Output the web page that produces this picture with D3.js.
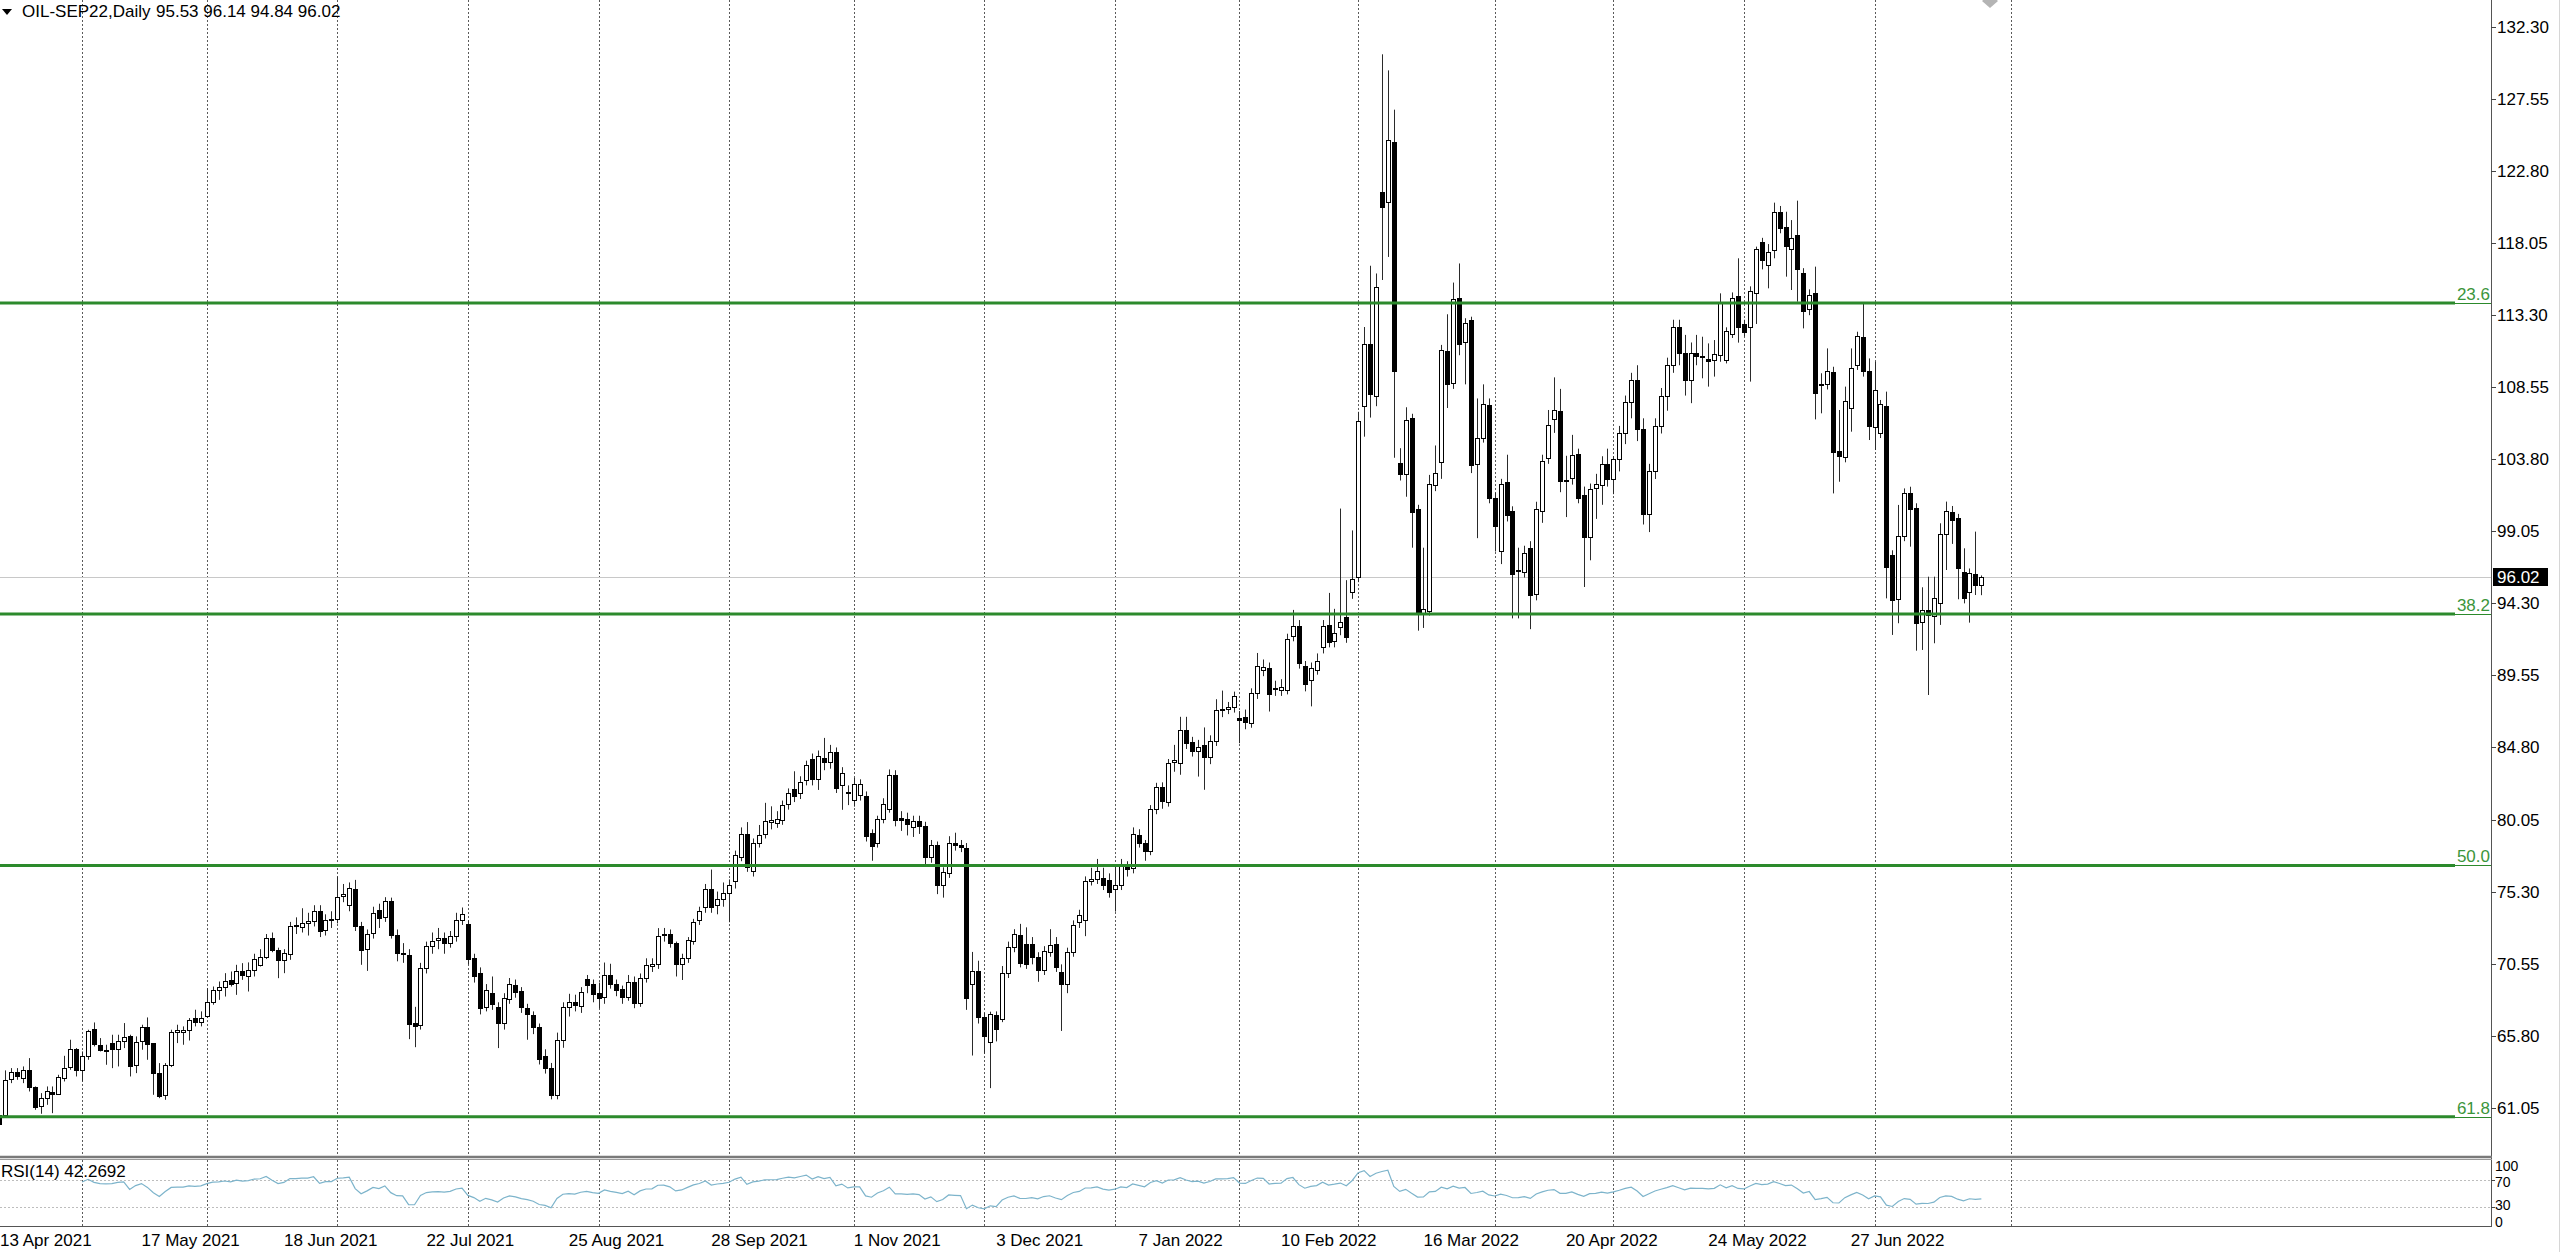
<!DOCTYPE html>
<html><head><meta charset="utf-8">
<script src="https://cdn.jsdelivr.net/npm/d3@7"></script>
<style>html,body{margin:0;padding:0;background:#fff;overflow:hidden}svg{display:block}text{white-space:pre}</style>
</head><body>
<svg id="chart" width="2560" height="1252"></svg>
<script>
// ---------------- data (daily OHLC, bar 0 = 13 Apr 2021) ----------------
const opens = [
60.6,60.54,62.93,63.40,62.98,63.55,62.41,61.13,61.68,62.06,
61.97,63.04,63.73,64.91,63.51,64.43,66.23,65.20,64.87,65.31,
64.91,65.48,65.79,63.88,65.48,66.34,65.31,63.37,61.90,63.88,
66.03,66.03,66.19,66.96,66.69,67.07,68.01,68.78,69.00,69.48,
69.26,70.03,69.75,70.10,70.47,70.98,72.21,71.46,70.80,71.17,
73.00,72.95,73.26,73.33,74.03,72.77,73.44,73.48,75.02,74.43,
75.48,73.00,71.50,72.56,74.10,73.61,74.65,72.45,71.24,71.13,
66.62,66.47,70.25,71.68,72.12,72.23,71.90,72.38,73.44,73.17,
70.91,69.92,67.72,68.60,67.72,66.62,68.21,69.11,68.76,67.61,
67.13,66.34,64.47,63.66,61.90,65.53,67.66,68.01,67.77,69.53,
69.20,68.60,68.34,69.81,69.22,68.89,68.38,69.37,67.94,69.59,
70.36,70.51,72.47,72.47,71.89,70.51,70.92,72.01,73.40,74.25,
75.48,74.44,74.83,75.21,76.00,77.61,79.11,76.68,78.53,79.07,
79.88,79.83,80.00,81.08,82.05,81.78,82.65,84.04,82.70,84.09,
83.81,84.50,82.31,81.88,81.31,81.68,81.57,79.14,78.53,80.11,
80.76,83.00,80.15,80.11,79.53,79.92,79.65,77.56,78.37,75.76,
76.52,78.49,78.37,78.14,69.23,70.09,67.04,65.35,67.15,66.92,
69.93,71.66,72.42,71.85,71.85,70.97,70.12,71.32,71.82,70.00,
69.23,71.32,73.28,73.40,75.99,76.11,76.18,76.06,75.44,75.71,
76.98,76.87,79.02,78.49,77.96,80.76,82.19,81.22,83.86,83.76,
85.96,85.15,84.55,84.97,84.16,85.24,87.24,87.33,87.44,86.71,
86.82,86.43,88.37,89.94,90.06,88.72,88.62,88.62,92.14,92.83,
90.17,89.25,89.94,91.45,92.88,91.79,92.76,93.39,95.08,96.03,
107.30,111.41,107.98,121.42,120.79,124.70,103.57,102.84,106.50,100.50,
93.61,93.81,102.08,103.65,110.96,108.82,114.44,111.51,112.98,103.52,
105.21,107.35,101.25,97.72,102.31,100.37,96.46,96.39,97.97,94.95,
100.37,103.90,106.47,107.00,102.44,102.59,104.16,101.43,98.66,101.88,
102.1,103.5,102.5,103.8,105.5,107.6,109.0,105.8,100.2,103.0,
106.0,108.0,110.0,112.5,110.8,109.0,110.8,110.63,110.41,110.34,
110.67,110.34,112.06,114.56,112.72,112.50,114.78,118.14,116.61,117.60,
120.12,119.13,117.66,118.58,116.10,113.68,114.74,108.78,108.76,109.53,
104.37,103.97,107.16,110.02,111.88,109.64,105.95,105.51,107.33,97.49,
94.57,98.74,101.60,100.57,93.10,93.87,93.47,94.35,98.88,100.35,
99.91,96.39,95.07,96.24,95.53];
const highs = [
60.9,63.51,63.66,63.66,63.77,64.32,62.45,62.01,62.45,62.45,
63.22,64.47,65.53,64.98,64.76,66.19,66.67,65.64,65.20,65.86,
65.86,66.63,65.86,65.75,66.52,67.00,65.31,63.99,63.99,66.19,
66.52,66.41,66.96,67.51,67.40,68.93,69.04,69.37,69.92,70.03,
70.47,70.58,70.63,71.20,71.50,72.50,72.60,71.60,71.50,73.30,
73.60,74.20,73.90,74.40,74.40,73.80,74.00,76.29,75.80,75.90,
76.07,73.30,72.80,74.30,74.50,74.93,74.90,72.80,71.90,71.50,
67.70,70.60,72.00,72.60,72.90,72.60,72.70,73.90,74.25,73.40,
71.20,70.30,69.20,69.70,68.00,68.60,69.60,69.50,69.00,67.90,
67.40,66.60,64.90,64.00,66.00,68.00,68.56,68.50,69.00,69.80,
69.50,69.30,70.62,70.54,69.50,69.10,69.80,69.70,69.90,70.90,
70.90,72.89,72.90,72.80,72.00,71.20,72.30,73.50,74.30,75.80,
76.75,75.30,75.90,76.10,78.00,79.53,79.88,78.80,79.69,81.15,
80.92,80.60,81.30,82.10,83.23,82.90,83.93,84.40,84.60,85.43,
84.97,84.80,83.50,82.30,82.80,82.70,81.90,79.40,80.30,81.45,
83.35,83.30,80.60,80.50,80.30,80.30,79.90,78.70,78.60,76.90,
78.95,79.18,78.70,78.50,71.32,70.74,67.30,67.38,67.40,70.39,
72.00,72.82,73.17,72.94,72.30,71.30,71.70,72.82,72.30,70.50,
71.60,73.40,74.10,76.30,76.87,77.45,76.87,76.50,76.98,77.45,
77.30,79.53,79.41,78.70,81.00,82.47,82.50,84.04,84.97,86.82,
86.82,85.50,85.30,86.12,85.60,87.98,88.55,87.80,88.48,87.20,
87.30,88.70,91.03,90.60,90.40,89.20,89.30,92.30,93.87,93.20,
90.50,90.40,91.00,93.20,94.99,93.94,100.55,95.83,99.11,106.93,
112.52,116.56,116.05,130.50,129.44,126.85,104.53,107.23,106.80,100.80,
97.97,102.77,104.71,111.34,113.36,115.45,116.71,113.10,113.20,107.81,
108.74,107.81,101.60,102.51,104.10,100.70,97.97,98.10,98.40,101.00,
104.10,107.05,109.20,108.44,104.03,105.41,104.50,102.00,102.20,102.84,
104.0,104.5,104.0,106.0,108.0,109.5,110.0,106.5,103.5,106.5,
108.5,110.5,113.0,113.0,112.0,111.5,112.0,111.88,111.44,111.66,
114.74,112.50,114.80,117.05,113.00,115.20,117.82,118.40,117.99,120.72,
120.50,120.12,119.57,120.85,116.40,115.00,116.50,109.47,111.11,109.90,
107.05,108.59,111.11,112.21,114.08,110.45,110.23,107.71,108.26,97.80,
100.79,101.88,101.99,100.90,95.36,96.06,96.06,99.58,101.01,100.72,
100.20,97.93,96.60,99.03,96.14];
const lows = [
59.7,60.47,62.67,62.89,62.67,62.12,60.91,60.65,61.24,60.69,
61.90,62.78,63.55,63.11,62.78,64.21,65.09,64.76,63.88,63.66,
63.77,64.98,63.11,63.33,64.87,64.21,61.90,61.68,61.57,63.73,
65.31,65.20,65.48,66.41,66.41,66.96,67.84,68.16,68.38,69.04,
68.49,69.48,68.71,69.70,70.36,70.85,71.30,69.59,69.92,70.80,
72.50,72.60,72.40,73.00,72.30,72.40,72.90,73.20,74.60,74.00,
72.70,70.47,70.07,72.20,72.90,73.30,72.20,70.70,70.60,65.57,
65.04,66.20,69.90,71.20,71.50,71.20,71.60,72.00,73.10,70.50,
69.30,67.20,67.40,67.50,64.98,66.20,67.90,68.30,67.30,65.53,
65.90,63.90,63.30,61.60,61.60,65.00,67.06,67.40,67.30,68.60,
68.00,67.60,67.90,68.90,68.40,67.90,68.10,67.61,67.70,69.30,
70.00,70.20,72.00,71.60,69.70,69.47,70.60,71.80,73.10,73.90,
73.90,73.80,74.30,73.28,75.50,77.30,76.60,76.29,78.20,78.80,
79.40,79.50,79.70,80.70,81.20,81.40,82.30,82.30,82.00,83.30,
83.40,81.80,80.69,81.00,80.90,81.30,78.60,77.33,78.20,79.80,
80.50,79.60,79.30,79.00,78.90,79.10,77.10,77.20,75.13,74.90,
76.20,78.00,77.90,67.50,64.49,66.60,64.61,62.34,65.42,66.69,
69.60,71.30,70.30,70.20,70.50,69.35,69.80,71.00,70.00,66.11,
68.60,71.00,72.90,72.36,75.70,75.80,75.40,74.90,73.98,75.40,
76.29,76.50,78.20,77.33,77.70,80.40,80.76,80.90,83.20,83.00,
84.70,84.20,82.88,82.01,83.70,84.90,86.80,87.00,87.10,85.08,
86.00,86.10,88.00,89.50,87.17,88.20,88.20,88.30,91.80,90.00,
88.50,87.51,89.60,91.00,91.40,91.40,92.20,91.70,94.60,95.70,
105.29,106.55,107.30,115.62,117.14,103.90,102.40,101.33,97.97,92.50,
92.68,93.50,101.70,102.51,107.18,108.44,110.66,108.74,102.89,98.60,
104.90,100.90,97.72,96.89,99.70,93.31,93.31,96.00,92.60,94.50,
99.61,103.50,105.54,101.63,99.99,102.13,100.90,95.38,97.14,99.87,
100.8,102.0,101.5,103.0,104.8,106.5,105.0,99.5,99.0,102.5,
105.5,107.0,109.5,110.0,108.0,107.5,110.0,109.14,108.59,109.25,
110.23,110.12,111.80,111.49,111.90,108.92,112.72,116.32,115.07,117.05,
118.70,115.84,114.96,114.19,112.43,113.30,106.43,106.83,108.40,101.55,
102.32,103.60,105.62,109.69,109.25,105.07,104.41,105.20,94.63,92.22,
92.99,98.40,98.04,91.18,91.23,88.26,91.67,92.88,96.50,98.22,
94.57,94.30,93.03,94.85,94.84];
const closes = [
60.0,62.85,63.40,63.15,63.55,62.41,61.09,61.68,62.12,61.97,
63.07,63.66,64.91,63.51,64.43,66.12,65.24,64.87,64.83,64.91,
65.48,65.70,63.77,65.40,66.36,65.24,63.37,61.84,63.88,66.03,
66.19,66.19,66.85,66.67,66.96,68.01,68.78,69.00,69.42,69.22,
70.03,69.81,70.10,70.84,70.98,72.21,71.46,70.76,71.24,73.06,
73.10,73.26,73.33,73.99,72.73,73.44,73.48,74.97,75.15,75.52,
73.04,71.46,72.49,73.88,73.55,74.65,72.45,71.24,71.20,66.56,
66.45,70.25,71.68,72.05,72.23,71.94,72.34,73.44,73.83,70.84,
69.75,67.61,68.82,67.90,66.62,68.27,69.20,68.71,67.72,67.24,
66.34,64.25,63.66,61.90,65.53,67.68,67.99,67.79,68.67,69.11,
68.54,68.27,69.81,69.22,68.82,68.34,69.37,67.94,69.59,70.47,
70.54,72.34,72.45,71.89,70.51,70.92,72.08,73.28,74.02,75.48,
74.25,74.83,75.21,75.76,77.73,79.11,76.94,78.53,79.02,79.92,
79.99,80.11,80.99,81.78,81.59,82.54,83.65,82.70,84.27,83.81,
84.50,82.14,83.12,81.85,82.38,82.38,78.95,78.30,80.06,81.08,
83.00,79.99,79.99,79.76,79.92,79.65,77.56,78.37,75.76,76.57,
78.53,78.37,78.26,68.31,70.09,67.04,65.76,67.22,66.27,69.93,
71.66,72.52,70.58,70.51,70.97,70.12,71.36,71.78,70.34,69.23,
71.32,73.12,73.75,75.99,76.13,76.68,75.71,75.25,75.76,77.10,
76.82,79.07,78.53,77.96,80.73,82.19,81.27,83.76,83.95,85.96,
85.08,84.55,84.85,84.16,85.24,87.24,87.33,87.44,88.21,86.60,
86.47,88.37,90.17,90.10,88.32,88.70,88.78,91.95,92.83,90.40,
88.97,90.06,90.52,92.83,91.75,92.33,93.06,92.10,95.88,106.30,
111.41,108.11,115.17,120.42,124.83,109.62,102.84,106.42,100.32,93.61,
93.94,102.14,102.89,111.01,108.74,114.36,111.41,112.80,103.45,105.21,
107.43,101.25,99.41,102.19,100.12,96.21,96.50,97.65,94.87,100.55,
103.70,106.04,107.05,102.39,102.39,104.10,101.25,98.66,101.81,102.14,
103.5,102.5,103.8,105.5,107.6,109.0,105.8,100.2,103.0,106.0,
108.0,110.0,112.5,110.8,109.0,110.8,110.6,110.60,110.30,110.74,
114.19,112.26,114.41,112.54,112.21,114.89,117.64,116.94,117.49,120.08,
119.07,117.88,118.36,116.32,113.57,114.63,108.19,108.76,109.64,104.30,
104.02,107.64,109.84,111.93,109.64,105.99,108.37,107.44,96.72,94.52,
98.74,101.55,100.52,93.03,93.87,93.54,94.63,98.88,100.39,99.80,
96.61,94.63,96.32,95.51,96.02];

const priceTicks = [132.30,127.55,122.80,118.05,113.30,108.55,103.80,99.05,94.30,89.55,84.80,80.05,75.30,70.55,65.80,61.05];
const dateLabels = ["13 Apr 2021","17 May 2021","18 Jun 2021","22 Jul 2021","25 Aug 2021","28 Sep 2021","1 Nov 2021","3 Dec 2021","7 Jan 2022","10 Feb 2022","16 Mar 2022","20 Apr 2022","24 May 2022","27 Jun 2022"];
const labelBars = [0,24,48,72,96,120,144,168,192,216,240,264,288,312];
const monthStartBars = [14,35,57,79,101,123,144,166,188,209,229,252,272,294,316,339];
const fibLabels = ["23.6","38.2","50.0","61.8"];
const fibPrices = [114.10,93.60,77.02,60.45];
const rsiLevels = [70,30];
const rsiAxisLabels = ["100","70","30","0"];
const lastPrice = 96.02;
const symbolText = "OIL-SEP22,Daily";
const ohlcText = "95.53 96.14 94.84 96.02";
const rsiTitle = "RSI(14) 42.2692";
const rsiPeriod = 14;

// ---------------- layout ----------------
const W = 2560, H = 1252;
const plotRight = 2491, mainBottom = 1157, rsiTop = 1160, rsiBottom = 1227;
const FONT = "'Liberation Sans', Arial, sans-serif";
const svg = d3.select("#chart");

const N = opens.length;
const x = d3.scaleLinear().domain([0, 334]).range([-0.93, 1981.36]);
const y = d3.scaleLinear().domain([61.05, 132.30]).range([1107.7, 27]);
const yR = d3.scaleLinear().domain([0, 100]).range([rsiBottom, rsiTop]);

const defs = svg.append("defs");
defs.append("clipPath").attr("id","clipMain").append("rect").attr("x",0).attr("y",0).attr("width",plotRight).attr("height",mainBottom-1);
defs.append("clipPath").attr("id","clipRsi").append("rect").attr("x",0).attr("y",rsiTop).attr("width",plotRight).attr("height",rsiBottom-rsiTop);

svg.append("rect").attr("width",W).attr("height",H).attr("fill","#fff");

// vertical period separators
svg.append("g").selectAll("line").data(monthStartBars).join("line")
  .attr("x1", d => Math.round(x(d)) + 0.5).attr("x2", d => Math.round(x(d)) + 0.5)
  .attr("y1", 0).attr("y2", rsiBottom)
  .attr("stroke", "#5a5a5a").attr("stroke-width", 1).attr("stroke-dasharray", "2,2");

// current price line
svg.append("line").attr("x1",0).attr("x2",plotRight).attr("y1",Math.round(y(lastPrice))+0.5).attr("y2",Math.round(y(lastPrice))+0.5)
  .attr("stroke","#c8c8c8").attr("stroke-width",1);

// candles
const bars = d3.range(N);
const gC = svg.append("g").attr("clip-path","url(#clipMain)");
gC.selectAll("line.wick").data(bars).join("line").attr("class","wick")
  .attr("x1", i => Math.round(x(i)) + 0.5).attr("x2", i => Math.round(x(i)) + 0.5)
  .attr("y1", i => y(highs[i])).attr("y2", i => y(lows[i]))
  .attr("stroke", "#2a2a2a").attr("stroke-width", 1);
gC.selectAll("rect.body").data(bars).join("rect").attr("class","body")
  .attr("x", i => Math.round(x(i)) - 1.5)
  .attr("width", 4)
  .attr("y", i => Math.round(y(Math.max(opens[i], closes[i]))) + 0.5)
  .attr("height", i => Math.max(1, Math.round(y(Math.min(opens[i], closes[i]))) - Math.round(y(Math.max(opens[i], closes[i])))))
  .attr("fill", i => closes[i] >= opens[i] ? "#fff" : "#000")
  .attr("stroke", "#000").attr("stroke-width", 1);

// fibonacci levels
const gF = svg.append("g");
fibPrices.forEach((p, k) => {
  const yy = y(p);
  gF.append("line").attr("x1",0).attr("x2",2455).attr("y1",yy).attr("y2",yy).attr("stroke","#2c8a2c").attr("stroke-width",3);
  gF.append("line").attr("x1",2455).attr("x2",plotRight).attr("y1",Math.round(yy)+0.5).attr("y2",Math.round(yy)+0.5).attr("stroke","#2c8a2c").attr("stroke-width",1);
  gF.append("text").attr("x",2490).attr("y",yy-3).attr("text-anchor","end")
    .attr("font-family",FONT).attr("font-size",17).attr("fill","#3b953b").text(fibLabels[k]);
});

// panel frames
svg.append("line").attr("x1",plotRight+0.5).attr("x2",plotRight+0.5).attr("y1",0).attr("y2",rsiBottom).attr("stroke","#555").attr("stroke-width",1);
svg.append("line").attr("x1",0).attr("x2",plotRight+1).attr("y1",1157).attr("y2",1157).attr("stroke","#7a7a7a").attr("stroke-width",2.5);
svg.append("line").attr("x1",0).attr("x2",plotRight+1).attr("y1",1159.5).attr("y2",1159.5).attr("stroke","#9a9a9a").attr("stroke-width",1);
svg.append("line").attr("x1",0).attr("x2",plotRight+1).attr("y1",rsiBottom-0.5).attr("y2",rsiBottom-0.5).attr("stroke","#555").attr("stroke-width",1);
svg.append("line").attr("x1",2559.5).attr("x2",2559.5).attr("y1",0).attr("y2",H).attr("stroke","#d6d6d6").attr("stroke-width",1);

// price axis
const gA = svg.append("g").attr("font-family",FONT).attr("font-size",17).attr("fill","#000");
priceTicks.forEach(p => {
  const yy = Math.round(y(p)) + 0.5;
  gA.append("line").attr("x1",plotRight).attr("x2",plotRight+5).attr("y1",yy).attr("y2",yy).attr("stroke","#444");
  gA.append("text").attr("x",2497).attr("y",y(p)+6).text(p.toFixed(2));
});
// current price marker
svg.append("rect").attr("x",2493).attr("y",Math.round(y(lastPrice))-9).attr("width",55).attr("height",18).attr("fill","#000");
svg.append("text").attr("x",2497).attr("y",y(lastPrice)+6).attr("font-family",FONT).attr("font-size",17).attr("fill","#fff").text(lastPrice.toFixed(2));

// RSI panel
function wilderRsi(c, n) {
  const out = new Array(c.length).fill(null);
  let g = 0, l = 0;
  for (let i = 1; i <= n && i < c.length; i++) { const d = c[i]-c[i-1]; if (d > 0) g += d; else l -= d; }
  g /= n; l /= n;
  if (c.length > n) out[n] = l === 0 ? 100 : 100 - 100/(1+g/l);
  for (let i = n+1; i < c.length; i++) {
    const d = c[i]-c[i-1];
    g = (g*(n-1) + Math.max(d,0))/n;
    l = (l*(n-1) + Math.max(-d,0))/n;
    out[i] = l === 0 ? 100 : 100 - 100/(1+g/l);
  }
  return out;
}
const rsiVals = wilderRsi(closes, rsiPeriod);
const gR = svg.append("g");
rsiLevels.forEach(v => {
  gR.append("line").attr("x1",0).attr("x2",plotRight).attr("y1",Math.round(yR(v))+0.5).attr("y2",Math.round(yR(v))+0.5)
    .attr("stroke","#bdbdbd").attr("stroke-width",1).attr("stroke-dasharray","2,2");
  gR.append("line").attr("x1",plotRight).attr("x2",plotRight+4).attr("y1",Math.round(yR(v))+0.5).attr("y2",Math.round(yR(v))+0.5).attr("stroke","#444");
});
gR.append("path").attr("clip-path","url(#clipRsi)")
  .datum(bars.filter(i => rsiVals[i] !== null))
  .attr("d", d3.line().x(i => x(i)).y(i => yR(rsiVals[i])))
  .attr("fill","none").attr("stroke","#7db4cb").attr("stroke-width",1.2);
gR.append("text").attr("x",1).attr("y",1177).attr("font-family",FONT).attr("font-size",17).attr("fill","#000").text(rsiTitle);
const rsiLabelY = [1171, 1187, 1209.5, 1227];
rsiAxisLabels.forEach((t, k) => {
  gR.append("text").attr("x",2495).attr("y",rsiLabelY[k]).attr("font-family",FONT).attr("font-size",14).attr("fill","#000").text(t);
});

// time axis
svg.append("g").selectAll("text").data(labelBars).join("text")
  .attr("x", (d,i) => Math.max(0, x(d)))
  .attr("y", 1246).attr("font-family",FONT).attr("font-size",17).attr("fill","#000")
  .text((d,i) => dateLabels[i]);

// title
svg.append("path").attr("d","M2,9 L12,9 L7,15 Z").attr("fill","#000");
svg.append("text").attr("x",22).attr("y",17).attr("font-family",FONT).attr("font-size",17).attr("fill","#000").text(symbolText);
svg.append("text").attr("x",156).attr("y",17).attr("font-family",FONT).attr("font-size",17).attr("fill","#000").text(ohlcText);

// object marker at top edge
svg.append("path").attr("d","M1990,-6 L1998,1 L1990,8 L1982,1 Z").attr("fill","#b4b4b4");
</script>
</body></html>
